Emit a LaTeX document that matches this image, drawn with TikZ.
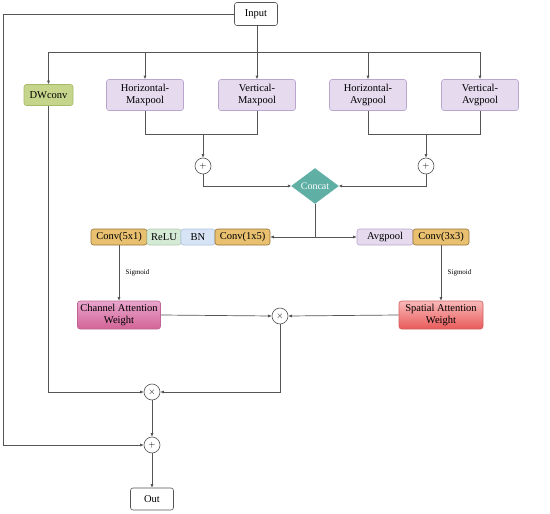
\documentclass[tikz,border=0pt]{standalone}
\usepackage{fontspec}
\setmainfont{Liberation Serif}
\usetikzlibrary{shapes.geometric,arrows.meta}
\definecolor{ln}{RGB}{85,85,85}
\definecolor{dwf}{RGB}{197,214,140}
\definecolor{dwd}{RGB}{165,185,105}
\definecolor{pf}{RGB}{229,218,238}
\definecolor{pd}{RGB}{185,165,205}
\definecolor{cf}{RGB}{232,192,112}
\definecolor{cd}{RGB}{150,115,55}
\definecolor{rf}{RGB}{213,234,212}
\definecolor{rd}{RGB}{175,205,175}
\definecolor{bf}{RGB}{215,228,246}
\definecolor{bd}{RGB}{175,195,225}
\definecolor{tf}{RGB}{95,175,165}
\definecolor{chT}{RGB}{232,165,205}
\definecolor{chB}{RGB}{210,100,150}
\definecolor{chD}{RGB}{190,100,150}
\definecolor{spT}{RGB}{250,185,185}
\definecolor{spB}{RGB}{232,90,90}
\definecolor{spD}{RGB}{210,95,95}
\tikzset{
  box/.style={draw=#1, rounded corners=2.5pt, inner sep=0pt, align=center, font=\fontsize{10.5}{11.5}\selectfont, line width=0.6pt},
  plain/.style={box=ln, fill=white, minimum width=43pt, minimum height=23pt},
  pool/.style={box=pd, fill=pf, minimum width=77pt, minimum height=31pt},
  cbox/.style={box=cd, fill=cf, minimum height=16pt},
  opc/.style={circle, draw=ln, fill=white, inner sep=0pt, minimum size=16pt, font=\fontsize{9}{9}\selectfont, line width=0.6pt},
  wire/.style={draw=ln, line width=0.7pt},
  arr/.style={wire, -{Latex[length=3.5pt,width=3.2pt]}},
}
\begin{document}
\begin{tikzpicture}[x=1pt,y=-1pt]
\useasboundingbox (0,0) rectangle (550,514);
% nodes
\node[plain] (in) at (256,14) {Input};
\node[box=dwd, fill=dwf, minimum width=49pt, minimum height=21pt] (dw) at (48.5,95) {DWconv};
\node[pool] (hm) at (145,95) {Horizontal-\\Maxpool};
\node[pool] (vm) at (257,95) {Vertical-\\Maxpool};
\node[pool] (ha) at (368,95) {Horizontal-\\Avgpool};
\node[pool] (va) at (480,95) {Vertical-\\Avgpool};
\node[opc] (p1) at (203,166) {$+$};
\node[opc] (p3) at (426,166) {$+$};
\node[diamond, fill=tf, draw=tf, text=white, inner sep=0pt, minimum width=47pt, minimum height=28pt, font=\fontsize{10}{11}\selectfont] (cc) at (315,186) {Concat};
\node[cbox, minimum width=56pt] (c51) at (119,237) {Conv(5x1)};
\node[box=rd, fill=rf, minimum width=34pt, minimum height=16pt] (relu) at (164,237) {ReLU};
\node[box=bd, fill=bf, minimum width=34pt, minimum height=16pt] (bn) at (198,237) {BN};
\node[cbox, minimum width=55pt] (c15) at (242.5,237) {Conv(1x5)};
\node[box=pd, fill=pf, minimum width=56pt, minimum height=16pt] (ap) at (385,237) {Avgpool};
\node[cbox, minimum width=56pt] (c33) at (441,237) {Conv(3x3)};
\node[box=chD, top color=chT, bottom color=chB, minimum width=83pt, minimum height=28pt] (ch) at (119,315) {Channel Attention\\Weight};
\node[box=spD, top color=spT, bottom color=spB, minimum width=84pt, minimum height=28pt] (sp) at (441,315) {Spatial Attention\\Weight};
\node[opc] (t1) at (280,316) {$\times$};
\node[opc] (t2) at (152,392) {$\times$};
\node[opc] (p2) at (152,445) {$+$};
\node[plain, minimum height=22pt] (out) at (152,499) {Out};
% coordinates
\coordinate (bus) at (257,52);
\coordinate (L) at (3,445);
\coordinate (m1) at (203,134);
\coordinate (m2) at (426,134);
\coordinate (c2) at (315,237);
% wires
\draw[arr] (in.west) -| (L) -- (p2.west);
\draw[arr] (in.south -| vm.north) -- (vm.north);
\draw[arr] (bus) -| (dw.north);
\draw[arr] (bus) -| (hm.north);
\draw[arr] (bus) -| (ha.north);
\draw[arr] (bus) -| (va.north);
\draw[wire] (hm.south) |- (m1);
\draw[wire] (vm.south) |- (m1);
\draw[arr] (m1) -- (p1.north);
\draw[wire] (ha.south) |- (m2);
\draw[wire] (va.south) |- (m2);
\draw[arr] (m2) -- (p3.north);
\draw[arr] (p1.south) |- (cc.west);
\draw[arr] (p3.south) |- (cc.east);
\draw[wire] (cc.south) -- (c2);
\draw[arr] (c2) -- (c15.east);
\draw[arr] (c2) -- (ap.west);
\draw[arr] (c51.south) -- node[right=3pt, font=\fontsize{7}{8}\selectfont] {Sigmoid} (ch.north);
\draw[arr] (c33.south) -- node[right=3pt, font=\fontsize{7}{8}\selectfont] {Sigmoid} (sp.north);
\draw[arr] (ch.east) -- (t1.west);
\draw[arr] (sp.west) -- (t1.east);
\draw[arr] (t1.south) |- (t2.east);
\draw[arr] (dw.south) |- (t2.west);
\draw[arr] (t2.south) -- (p2.north);
\draw[arr] (p2.south) -- (out.north);
\end{tikzpicture}
\end{document}
